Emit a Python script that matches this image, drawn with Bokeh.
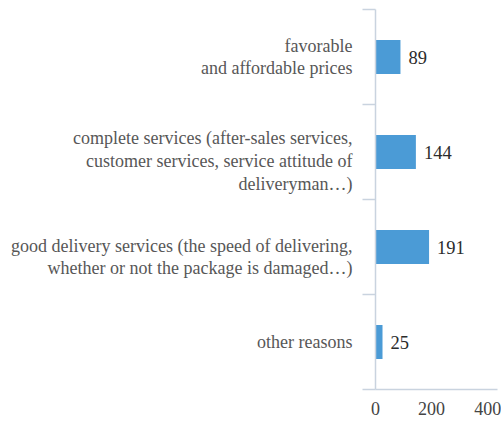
from bokeh.plotting import figure
from bokeh.layouts import row
from bokeh.models import Range1d, FixedTicker, ColumnDataSource
from bokeh.embed import file_html
from bokeh.resources import INLINE
from bokeh.core.properties import value

categories = [
    "favorable\nand affordable prices",
    "complete services (after-sales services,\ncustomer services, service attitude of\ndeliveryman\u2026)",
    "good delivery services (the speed of delivering,\nwhether or not the package is damaged\u2026)",
    "other reasons",
]
counts = [89, 144, 191, 25]
x_ticks = [0, 200, 400]

# layout only: vertical nudge (px) of each category label, as in the original
label_nudge = [0, 9, 10, 0]

n = len(categories)
ypos = [n - i - 0.5 for i in range(n)]
boundaries = list(range(n + 1))

serif = "Liberation Serif"
axis_col = "#c9d3df"

src = ColumnDataSource(dict(y=ypos, v=counts, lab=[str(c) for c in counts],
                            cat=categories, x0=[1] * n, dy=label_nudge))

yr = Range1d(0, n)

# left panel: category labels
pl = figure(width=355, height=421, output_backend="svg", toolbar_location=None,
            x_range=Range1d(0, 1), y_range=yr, x_axis_type=None, y_axis_type=None,
            min_border_left=0, min_border_right=0, min_border_top=9, min_border_bottom=32)
pl.outline_line_color = None
pl.grid.grid_line_color = None
pl.text(x="x0", y="y", text="cat", source=src, x_offset=-3, y_offset="dy",
        text_align="right", text_baseline="middle",
        text_font=value(serif), text_font_size="18px", text_color="#575757",
        text_line_height=1.13)

# right panel: bars
p = figure(width=146, height=421, output_backend="svg", toolbar_location=None,
           x_range=Range1d(0, 435), y_range=yr,
           min_border_left=20, min_border_right=4, min_border_top=9, min_border_bottom=32)
p.outline_line_color = None
p.grid.grid_line_color = None

p.hbar(y="y", right="v", left=0, height=0.36, source=src,
       fill_color="#4b9bd6", line_color=None)
p.text(x="v", y="y", text="lab", source=src, x_offset=8,
       text_baseline="middle", text_align="left",
       text_font=value(serif), text_font_size="18.5px", text_color="#2b2b2b")

xa = p.xaxis[0]
xa.ticker = FixedTicker(ticks=x_ticks)
xa.axis_line_color = axis_col
xa.axis_line_width = 1.5
xa.major_tick_out = 0
xa.major_tick_in = 0
xa.minor_tick_out = 0
xa.minor_tick_in = 0
xa.major_label_standoff = 12
xa.major_label_text_font = serif
xa.major_label_text_font_size = "18px"
xa.major_label_text_color = "#444444"

ya = p.yaxis[0]
ya.ticker = FixedTicker(ticks=[], minor_ticks=boundaries)
ya.axis_line_color = axis_col
ya.axis_line_width = 1.5
ya.major_tick_out = 0
ya.major_tick_in = 0
ya.minor_tick_out = 13
ya.minor_tick_in = 0
ya.minor_tick_line_color = axis_col
ya.minor_tick_line_width = 1.5
ya.major_label_standoff = 0

layout = row(pl, p, spacing=0)
open("out.html", "w").write(file_html(layout, INLINE))
